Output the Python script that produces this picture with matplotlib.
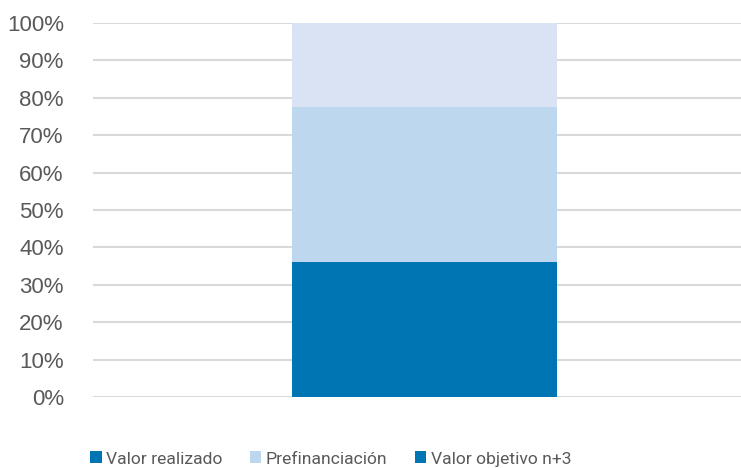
import matplotlib
matplotlib.use("Agg")
import matplotlib.pyplot as plt
from matplotlib.patches import Patch
from matplotlib.ticker import PercentFormatter

plt.rcParams["font.family"] = ["Liberation Sans", "DejaVu Sans"]

# data (shares of total)
categories = [""]
valor_realizado = [0.36]
prefinanciacion = [0.415]
valor_objetivo = [0.225]

series_labels = ["Valor realizado", "Prefinanciación", "Valor objetivo n+3"]
bar_colors = ["#0075B4", "#BDD7EE", "#DAE3F3"]
legend_colors = ["#0075B4", "#BDD7EE", "#0075B4"]

fig = plt.figure(figsize=(7.41, 4.68), dpi=100)
ax = fig.add_axes([93 / 741, 71 / 468, 648 / 741, 374 / 468])

x = list(range(len(categories)))
bottom = [0.0] * len(categories)
for vals, col in zip([valor_realizado, prefinanciacion, valor_objetivo], bar_colors):
    ax.bar(x, vals, width=0.4, bottom=bottom, color=col, zorder=2)
    bottom = [b + v for b, v in zip(bottom, vals)]

ax.set_xlim(-0.5, 0.4774)
ax.set_ylim(0, 1)
ax.set_yticks([i / 10 for i in range(11)])
ax.yaxis.set_major_formatter(PercentFormatter(1.0, decimals=0))
ax.set_xticks([])
ax.grid(axis="y", color="#D9D9D9", linewidth=1.5, zorder=0)
for s in ax.spines.values():
    s.set_visible(False)
ax.tick_params(axis="y", length=0, pad=21, labelsize=16, labelcolor="#595959")

handles = [Patch(facecolor=c, edgecolor="none") for c in legend_colors]
fig.legend(handles, series_labels, loc="center left", bbox_to_anchor=(81 / 741, 1 - 459 / 468),
           ncol=3, frameon=False, borderpad=0, handlelength=0.68, handleheight=0.68,
           handletextpad=0.25, columnspacing=1.55,
           prop={"family": "Roboto", "size": 12.6}, labelcolor="#595959")

fig.savefig("out.png", dpi=100)
